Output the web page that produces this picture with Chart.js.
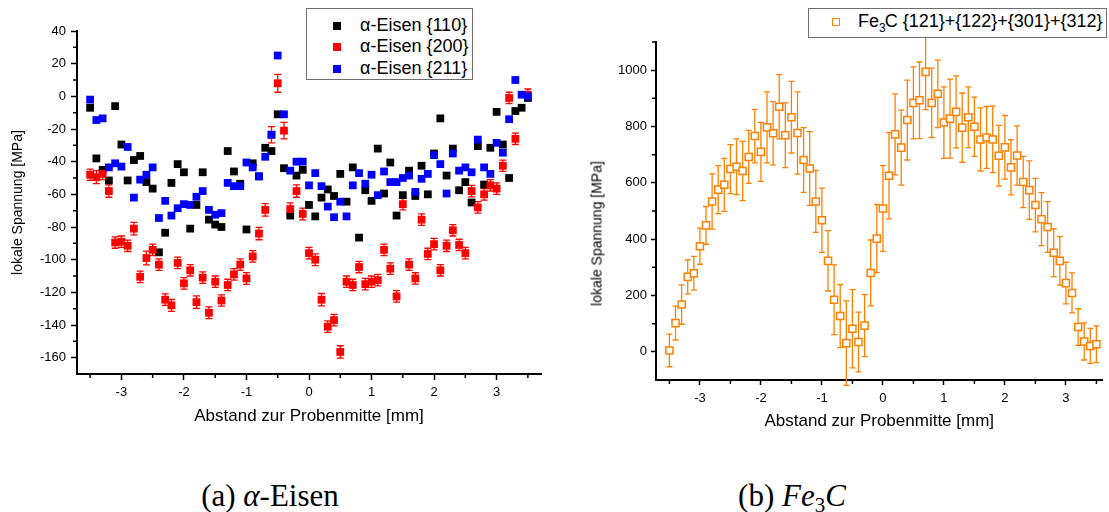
<!DOCTYPE html>
<html>
<head>
<meta charset="utf-8">
<script src="https://cdn.jsdelivr.net/npm/chart.js@4.4.0/dist/chart.umd.min.js"></script>
<style>
  body { margin: 0; background: #fff; width: 1109px; height: 512px; position: relative; overflow: hidden;
         font-family: "Liberation Sans", Arial, sans-serif; color: #000; }
  canvas { position: absolute; top: 0; }
  #left { left: 0; }
  #right { left: 560px; }
  .legend { position: absolute; box-sizing: border-box; border: 1px solid #6e6e6e; background: #fff; font-size: 18px; }
  .row { position: absolute; white-space: nowrap; line-height: 21px; height: 21px; }
  .mark { position: absolute; box-sizing: border-box; }
  .ytitle { position: absolute; width: 200px; height: 17px; line-height: 17px; text-align: center; font-size: 14px;
            white-space: nowrap; transform: rotate(-90deg); transform-origin: 50% 50%; }
  .caption { position: absolute; top: 480px; width: 300px; text-align: center; line-height: 32px;
             font-family: "Liberation Serif", "DejaVu Serif", serif; font-size: 31px; }
  .caption sub { font-size: 21px; vertical-align: -6px; line-height: 0; }
</style>
</head>
<body>
<canvas id="left" width="550" height="440"></canvas>
<canvas id="right" width="549" height="440"></canvas>

<div class="legend" style="left:306px; top:8px; width:167px; height:72px;">
  <div class="mark" style="left:26px; top:13px; width:8px; height:8px; background:#000;"></div>
  <div class="row" style="left:53px; top:6px;">α-Eisen {110}</div>
  <div class="mark" style="left:26px; top:34px; width:8px; height:8px; background:#ff0000;"></div>
  <div class="row" style="left:53px; top:27px;">α-Eisen {200}</div>
  <div class="mark" style="left:26px; top:56px; width:8px; height:8px; background:#0000ff;"></div>
  <div class="row" style="left:53px; top:49px;">α-Eisen {211}</div>
</div>

<div class="legend" style="left:808px; top:8px; width:299px; height:30px;">
  <div class="mark" style="left:23px; top:9px; width:8px; height:8px; border:1.5px solid #ff8000; background:#fff;"></div>
  <div class="row" style="left:49px; top:2px;">Fe<sub style="font-size:12px; vertical-align:-5px; line-height:0; margin-right:-1px;">3</sub>C {121}+{122}+{301}+{312}</div>
</div>

<div class="ytitle" style="left:497px; top:225px;">lokale Spannung [MPa]</div>

<div class="caption" style="left:120px;">(a) <i>α</i>-Eisen</div>
<div class="caption" style="left:642px;">(b) <i>Fe</i><sub>3</sub><i>C</i></div>

<script>
// Messpositionen (Abstand zur Probenmitte in mm)
const xPos = [-3.5, -3.4, -3.3, -3.2, -3.1, -3.0, -2.9, -2.8, -2.7, -2.6,
              -2.5, -2.4, -2.3, -2.2, -2.1, -2.0, -1.9, -1.8, -1.7, -1.6,
              -1.5, -1.4, -1.3, -1.2, -1.1, -1.0, -0.9, -0.8, -0.7, -0.6,
              -0.5, -0.4, -0.3, -0.2, -0.1, 0.0, 0.1, 0.2, 0.3, 0.4,
              0.5, 0.6, 0.7, 0.8, 0.9, 1.0, 1.1, 1.2, 1.3, 1.4,
              1.5, 1.6, 1.7, 1.8, 1.9, 2.0, 2.1, 2.2, 2.3, 2.4,
              2.5, 2.6, 2.7, 2.8, 2.9, 3.0, 3.1, 3.2, 3.3, 3.4, 3.5];

// alpha-Eisen, Spannungen in MPa
const alpha110 = [-7, -38, -45, -51.5, -6, -29.5, -51.5, -39, -36.5, -52.5,
                  -56.5, -95.5, -83.5, -53, -41.5, -46.5, -81, -66.5, -46.5, -75.5,
                  -78.5, -80, -33.5, -46, -53.5, -81.5, -41, -49, -31.5, -33.5,
                  -11, -44, -73, -48.5, -45, -66.5, -73.5, -62, -57, -61,
                  -47.5, -64.5, -43.5, -86.5, -57.5, -64, -32, -59.5, -40.5, -73,
                  -60.5, -45.5, -61, -42.5, -60, -35, -13.5, -48.5, -32, -57.5,
                  -52.5, -65, -30.5, -54, -31.5, -9.5, -29.5, -50, -9, -7, -1];
const alpha200 = [-48, -49.5, -47.5, -58, -89.5, -89, -91.5, -81, -110.5, -99,
                  -94, -103, -124.5, -128, -102, -114.5, -106.5, -126, -111, -132.5,
                  -113.5, -125, -115.5, -109, -103, -111.5, -98, -84, -69.5, -23.5,
                  8, -21, -69, -58, -72, -96, -100, -124.5, -141, -137,
                  -156.5, -113.5, -115.5, -104.5, -115, -113.5, -112.5, -94, -105.5, -122.5,
                  -66, -103, -111.5, -75.5, -96.5, -90.5, -106.5, -91.5, -82, -91,
                  -96, -58, -68, -60, -54.5, -56.5, -42.5, -1, -26, null, 1];
const alpha200Err = [3.4, 4, 3.5, 3.8, 3.5, 3.5, 3.5, 3.8, 3.5, 4.2,
                     3.5, 3.5, 3.5, 3.6, 3.5, 3.5, 3.5, 3.8, 3.5, 3.6,
                     3.5, 3.5, 3.5, 3.5, 3.5, 3.6, 3.5, 3.8, 3.8, 5,
                     5.5, 5, 3.8, 3.8, 3.6, 3.5, 3.6, 3.8, 3.5, 3.5,
                     3.8, 3.5, 3.5, 3.5, 3.5, 3.5, 3.5, 3.5, 3.5, 3.5,
                     3.5, 3.5, 3.5, 3.5, 3.5, 3.5, 3.5, 3.5, 3.5, 3.5,
                     3.5, 3.5, 3.5, 3.5, 3.5, 3.5, 3.5, 3.5, 3.5, 3.5, 3.5];
const alpha211 = [-2, -14.5, -13.5, -43.5, -41, -43, -31, -62, -51, -48,
                  -43.5, -74.5, -64, -73, -68.5, -66, -66.5, -61.5, -58, -69.5,
                  -72.5, -71.5, -53, -55, -55, -40.5, -43.5, -49, -37, -23.5,
                  25, -11, -45.5, -40, -40, -54.5, -47, -55, -67.5, -74,
                  -64.5, -73.5, -54.5, -47, -53.5, -48, -60.5, -46, -52.5, -52.5,
                  -50, -48.5, -58.5, -50.5, -47.5, -36, -41.5, -59.5, -35, -45.5,
                  -43.5, -46.5, -26.5, -43.5, -47.5, -28.5, -34.5, -14, 10, 1, 0];

// Fe3C, Spannungen in MPa
const fe3c = [5, 102, 168, 266, 279, 375, 449, 534, 576, 593,
              649, 657, 642, 692, 766, 710, 797, 776, 870, 769,
              833, 777, 681, 651, 534, 467, 323, 185, 127, 31,
              82, 35, 93, 280, 402, 509, 625, 772, 725, 823,
              884, 893, 994, 884, 916, 814, 828, 852, 796, 833,
              799, 754, 761, 754, 696, 726, 655, 697, 603, 574,
              521, 471, 443, 352, 323, 244, 209, 88, 37, 21, 27];
const fe3cErr = [58, 60, 70, 60, 60, 64, 67, 98, 85, 94,
                 87, 99, 105, 94, 95, 105, 126, 112, 114, 115,
                 127, 146, 115, 131, 110, 114, 107, 124, 112, 150,
                 139, 106, 110, 117, 121, 152, 153, 144, 133, 142,
                 128, 136, 134, 123, 120, 127, 140, 128, 123, 108,
                 105, 112, 110, 118, 108, 113, 98, 105, 91, 104,
                 95, 94, 90, 85, 86, 74, 71, 65, 66, 62, 65];

// Achsenteilung
const xMajor = [-3, -2, -1, 0, 1, 2, 3];
const xMinor = [-3.5, -2.5, -1.5, -0.5, 0.5, 1.5, 2.5, 3.5];
const leftYMajor = [40, 20, 0, -20, -40, -60, -80, -100, -120, -140, -160];
const leftYMinor = [30, 10, -10, -30, -50, -70, -90, -110, -130, -150];
const rightYMajor = [0, 200, 400, 600, 800, 1000];
const rightYMinor = [100, 300, 500, 700, 900, 1100];

Chart.defaults.font.family = '"Liberation Sans", Arial, sans-serif';
Chart.defaults.color = '#000';

function points(ys) {
    return xPos.map((x, i) => ({ x: x, y: ys[i] }));
}

// error bars + short minor ticks, all through the chart scales
function makeExtras(minorX, minorY) {
    return {
        id: 'extras',
        beforeDatasetsDraw(chart) {
            const ctx = chart.ctx;
            const yScale = chart.scales.y;
            chart.data.datasets.forEach((ds, i) => {
                if (!ds.errors) return;
                const meta = chart.getDatasetMeta(i);
                ctx.save();
                ctx.strokeStyle = ds.errorColor;
                ctx.lineWidth = 1.3;
                meta.data.forEach((pt, j) => {
                    const v = ds.data[j].y;
                    if (v === null) return;
                    const top = yScale.getPixelForValue(v + ds.errors[j]);
                    const bot = yScale.getPixelForValue(v - ds.errors[j]);
                    const c = ds.capHalf;
                    ctx.beginPath();
                    ctx.moveTo(pt.x, top); ctx.lineTo(pt.x, bot);
                    ctx.moveTo(pt.x - c, top); ctx.lineTo(pt.x + c, top);
                    ctx.moveTo(pt.x - c, bot); ctx.lineTo(pt.x + c, bot);
                    ctx.stroke();
                });
                ctx.restore();
            });
        },
        afterDraw(chart) {
            const ctx = chart.ctx;
            const area = chart.chartArea;
            ctx.save();
            ctx.strokeStyle = '#000';
            ctx.lineWidth = 1.5;
            ctx.beginPath();
            minorX.forEach(v => {
                const px = chart.scales.x.getPixelForValue(v);
                ctx.moveTo(px, area.bottom);
                ctx.lineTo(px, area.bottom + 4);
            });
            minorY.forEach(v => {
                const py = chart.scales.y.getPixelForValue(v);
                ctx.moveTo(area.left - 4, py);
                ctx.lineTo(area.left, py);
            });
            ctx.stroke();
            ctx.restore();
        }
    };
}

function axis(min, max, major, size, tickLen, pad, title, titleSize, titlePad) {
    return {
        type: 'linear',
        min: min,
        max: max,
        afterBuildTicks: a => { a.ticks = major.map(v => ({ value: v })); },
        afterFit: a => { if (a.isHorizontal()) a.height = size; else a.width = size; },
        border: { color: '#000', width: 2 },
        grid: { drawOnChartArea: false, tickLength: tickLen, tickColor: '#000', tickWidth: 1.5 },
        ticks: { color: '#000', font: { size: 13 }, padding: pad, autoSkip: false, maxRotation: 0,
                 callback: v => String(v) },
        title: { display: title !== '', text: title, color: '#000', font: { size: titleSize }, padding: titlePad }
    };
}

const common = {
    responsive: false,
    animation: false,
    devicePixelRatio: 1,
    events: [],
    plugins: { legend: { display: false }, tooltip: { enabled: false } }
};

new Chart(document.getElementById('left'), {
    type: 'scatter',
    data: {
        datasets: [
            { label: 'α-Eisen {110}', data: points(alpha110), backgroundColor: '#000', borderColor: '#000', order: 3 },
            { label: 'α-Eisen {200}', data: points(alpha200), backgroundColor: '#ff0000', borderColor: '#ff0000', order: 2,
              errors: alpha200Err, errorColor: '#ff0000', capHalf: 3.5 },
            { label: 'α-Eisen {211}', data: points(alpha211), backgroundColor: '#0000ff', borderColor: '#0000ff', order: 1 }
        ]
    },
    options: Object.assign({}, common, {
        layout: { padding: { top: 31, right: 9, left: 0, bottom: 0 } },
        elements: { point: { pointStyle: 'rect', radius: 5.5, borderWidth: 0 } },
        scales: {
            x: axis(-3.71, 3.71, xMajor, 66, 6, 5, 'Abstand zur Probenmitte [mm]', 17, { top: 0, bottom: 13 }),
            y: axis(-170, 40, leftYMajor, 77, 6, 5, 'lokale Spannung [MPa]', 14, { top: 10, bottom: 0 })
        }
    }),
    plugins: [makeExtras(xMinor, leftYMinor)]
});

// y title of this chart sits below the axis middle, so it is the html div above
new Chart(document.getElementById('right'), {
    type: 'scatter',
    data: {
        datasets: [
            { label: 'Fe3C {121}+{122}+{301}+{312}', data: points(fe3c), backgroundColor: '#fff', borderColor: '#ff8000',
              errors: fe3cErr, errorColor: '#ff8000', capHalf: 3 }
        ]
    },
    options: Object.assign({}, common, {
        layout: { padding: { top: 42, right: 2, left: 0, bottom: 0 } },
        elements: { point: { pointStyle: 'rect', radius: 5, borderWidth: 1.5 } },
        scales: {
            x: axis(-3.72, 3.6, xMajor, 60, 5, 6, 'Abstand zur Probenmitte [mm]', 17, { top: 0, bottom: 8 }),
            y: axis(-100, 1100, rightYMajor, 96, 5, 4, '', 14, 0)
        }
    }),
    plugins: [makeExtras(xMinor, rightYMinor)]
});
</script>
</body>
</html>
